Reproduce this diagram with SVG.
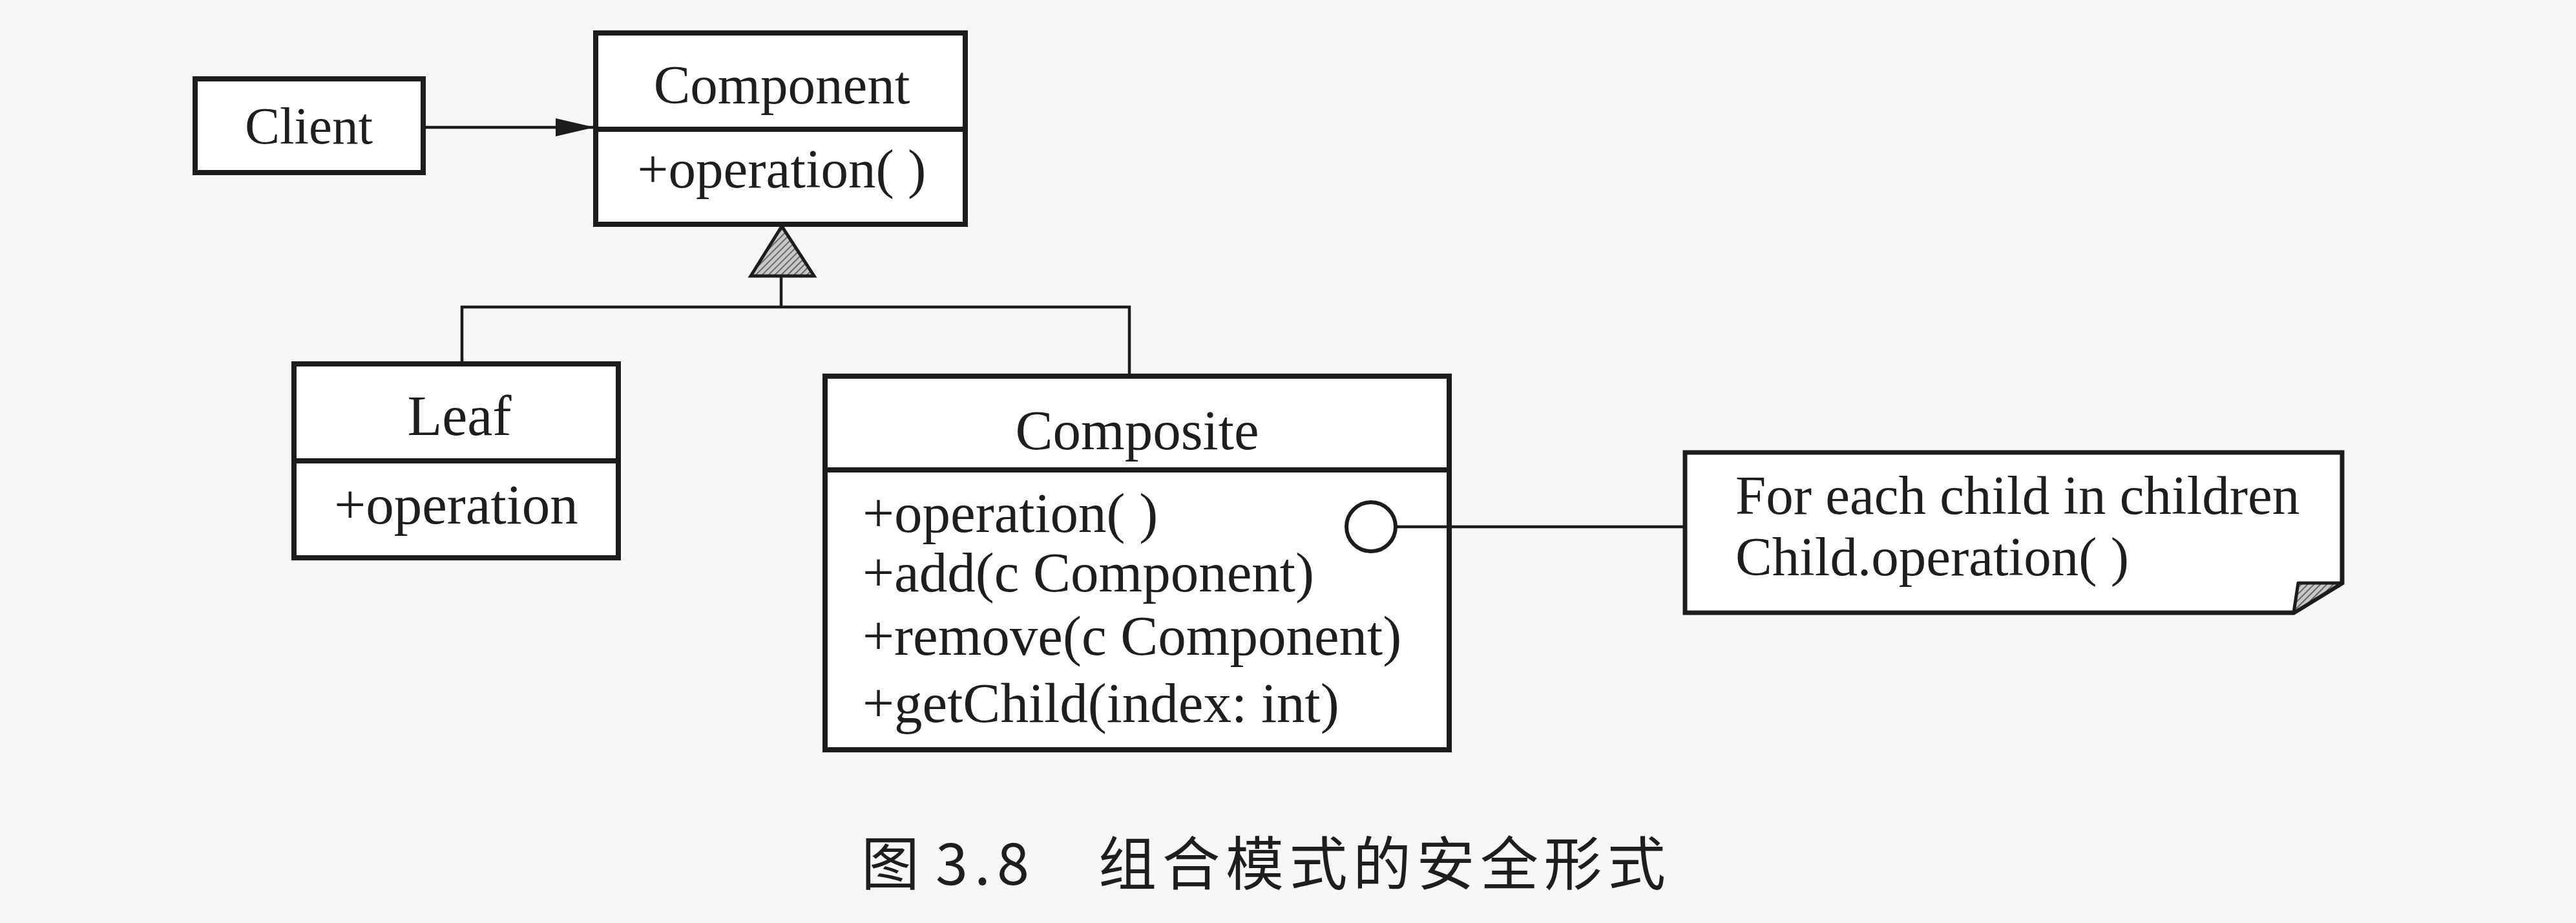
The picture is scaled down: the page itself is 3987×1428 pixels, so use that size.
<svg xmlns="http://www.w3.org/2000/svg" width="3987" height="1428" viewBox="0 0 3987 1428">
  <defs>
    <style>
      .box { fill: #ffffff; stroke: #1c1c1c; stroke-width: 8; }
      .div { stroke: #1c1c1c; stroke-width: 8; fill: none; }
      .conn { stroke: #1c1c1c; stroke-width: 4.5; fill: none; }
      .t { font-family: "Liberation Serif", "Times New Roman", serif; fill: #1e1e1e; }
      .cap { font-family: "Noto Sans CJK SC", "Noto Sans", sans-serif; fill: #1e1e1e; font-size: 90px; }
    </style>
    <pattern id="hatch" patternUnits="userSpaceOnUse" width="7" height="7" patternTransform="rotate(45)">
      <rect width="7" height="7" fill="#c8c8c8"/>
      <line x1="0" y1="0" x2="0" y2="7" stroke="#4a4a4a" stroke-width="3"/>
    </pattern>
    <marker id="arrow" markerUnits="userSpaceOnUse" markerWidth="62" markerHeight="30" refX="60" refY="14" orient="auto">
      <path d="M0,0 L60,14 L0,28 Z" fill="#1c1c1c"/>
    </marker>
  </defs>

  <rect x="0" y="0" width="3987" height="1428" fill="#f7f7f5"/>

  <g id="client">
    <rect class="box" x="302" y="122" width="353" height="145"/>
    <text class="t" x="478" y="222" font-size="81" text-anchor="middle">Client</text>
  </g>

  <g id="component">
    <rect class="box" x="922" y="51" width="572" height="296"/>
    <line class="div" x1="922" y1="200" x2="1494" y2="200"/>
    <text class="t" x="1210" y="160" font-size="85" text-anchor="middle">Component</text>
    <text class="t" x="1210" y="290" font-size="85" text-anchor="middle">+operation( )</text>
  </g>

  <g id="leaf">
    <rect class="box" x="455" y="563" width="502" height="300"/>
    <line class="div" x1="455" y1="713" x2="957" y2="713"/>
    <text class="t" x="711" y="673" font-size="88" text-anchor="middle">Leaf</text>
    <text class="t" x="706" y="810" font-size="87" text-anchor="middle">+operation</text>
  </g>

  <g id="composite">
    <rect class="box" x="1277" y="582" width="966" height="578"/>
    <line class="div" x1="1277" y1="727" x2="2243" y2="727"/>
    <text class="t" x="1760" y="695" font-size="87" text-anchor="middle">Composite</text>
    <text class="t" x="1335" y="823" font-size="87">+operation( )</text>
    <text class="t" x="1335" y="915" font-size="87">+add(c Component)</text>
    <text class="t" x="1335" y="1013" font-size="87">+remove(c Component)</text>
    <text class="t" x="1335" y="1117" font-size="87">+getChild(index: int)</text>
  </g>

  <g id="note">
    <path d="M2608,700 L3625,700 L3625,902 L3550,948 L2608,948 Z" fill="#ffffff" stroke="#1c1c1c" stroke-width="7" stroke-linejoin="miter"/>
    <path d="M3557,902 L3625,902 L3550,948 Z" fill="url(#hatch)" stroke="#1c1c1c" stroke-width="5" stroke-linejoin="round"/>
    <text class="t" x="2686" y="795" font-size="85">For each child in children</text>
    <text class="t" x="2686" y="890" font-size="85">Child.operation( )</text>
  </g>

  <g id="connectors">
    <line class="conn" x1="655" y1="197" x2="920" y2="197" marker-end="url(#arrow)"/>
    <polygon points="1210,350 1162,427 1260,427" fill="url(#hatch)" stroke="#1c1c1c" stroke-width="5" stroke-linejoin="miter"/>
    <line class="conn" x1="1209" y1="427" x2="1209" y2="475"/>
    <polyline class="conn" points="715,563 715,475 1748,475 1748,582"/>
    <circle cx="2122" cy="815" r="38" fill="none" stroke="#1c1c1c" stroke-width="6"/>
    <line class="conn" x1="2160" y1="815" x2="2606" y2="815"/>
  </g>

  <g id="caption">
    <text class="cap" x="1333" y="1369">图</text>
    <text class="cap" x="1448" y="1369" letter-spacing="10">3.8</text>
    <text class="cap" x="1700" y="1369" letter-spacing="8.5">组合模式的安全形式</text>
  </g>
</svg>
